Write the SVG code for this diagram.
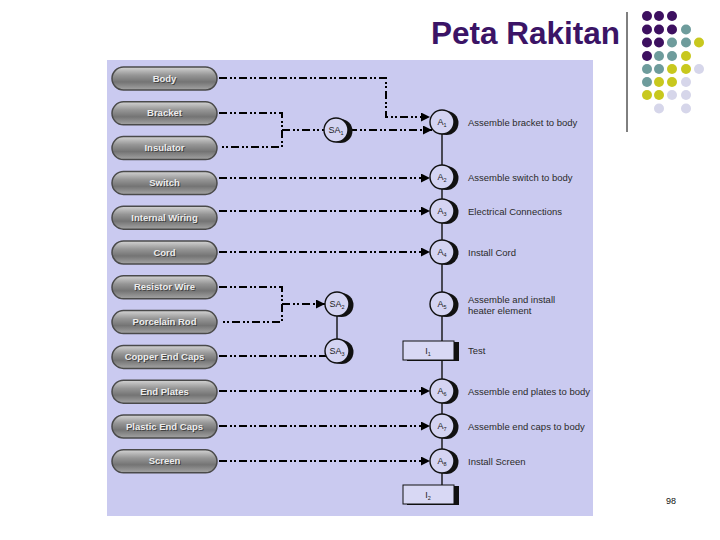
<svg xmlns="http://www.w3.org/2000/svg" width="720" height="540" viewBox="0 0 720 540">
<defs>
<linearGradient id="pillg" x1="0" y1="0" x2="0" y2="1">
<stop offset="0" stop-color="#d4d4d4"/>
<stop offset="0.35" stop-color="#969696"/>
<stop offset="0.65" stop-color="#747474"/>
<stop offset="1" stop-color="#a4a4a4"/>
</linearGradient>
<marker id="arr" markerUnits="userSpaceOnUse" markerWidth="10" markerHeight="10" refX="9" refY="4.5" orient="auto">
<path d="M0,0 L9,4.5 L0,9 z" fill="#000"/>
</marker>
<g id="circ">
<circle cx="4.5" cy="1" r="12" fill="#111"/>
<circle cx="0" cy="0" r="12" fill="#d4d4f2" stroke="#111" stroke-width="1.4"/>
</g>
</defs>
<style>
.pill{fill:url(#pillg);stroke:#4a4a4a;stroke-width:1.5}
.pt{font-family:"Liberation Sans",Arial,sans-serif;font-size:9.5px;font-weight:bold;fill:#ececec;text-anchor:middle}
.ps{font-family:"Liberation Sans",Arial,sans-serif;font-size:9.5px;font-weight:bold;fill:#444;text-anchor:middle}
.dl{fill:none;stroke:#000;stroke-width:2;stroke-dasharray:8 3 2 2 2 3}
.ct{font-family:"Liberation Sans",Arial,sans-serif;font-size:9px;fill:#222;text-anchor:middle}
.sub{font-size:5.5px}
.lb{font-family:"Liberation Sans",Arial,sans-serif;font-size:9.5px;fill:#2a2a2a}
</style>
<rect width="720" height="540" fill="#fff"/>
<text x="431" y="44" font-family="Liberation Sans,Arial,sans-serif" font-size="31.5" font-weight="bold" fill="#3b1466">Peta Rakitan</text>
<line x1="627" y1="12" x2="627" y2="132" stroke="#000" stroke-width="1"/>
<g id="dots">
<g fill="#3d1060">
<circle cx="647" cy="16" r="5"/><circle cx="659" cy="16" r="5"/><circle cx="672" cy="16" r="5"/>
<circle cx="647" cy="29.5" r="5"/><circle cx="659" cy="29.5" r="5"/><circle cx="672" cy="29.5" r="5"/>
<circle cx="647" cy="42.5" r="5"/><circle cx="659" cy="42.5" r="5"/>
<circle cx="647" cy="56" r="5"/>
</g>
<g fill="#6e9c9c">
<circle cx="686" cy="29.5" r="5"/>
<circle cx="672" cy="42.5" r="5"/><circle cx="686" cy="42.5" r="5"/>
<circle cx="659" cy="56" r="5"/><circle cx="672" cy="56" r="5"/>
<circle cx="647" cy="69" r="5"/><circle cx="659" cy="69" r="5"/>
<circle cx="647" cy="82" r="5"/>
</g>
<g fill="#c8c81e">
<circle cx="699" cy="42.5" r="5"/>
<circle cx="686" cy="56" r="5"/>
<circle cx="672" cy="69" r="5"/><circle cx="686" cy="69" r="5"/>
<circle cx="659" cy="82" r="5"/><circle cx="672" cy="82" r="5"/>
<circle cx="647" cy="95" r="5"/><circle cx="659" cy="95" r="5"/>
</g>
<g fill="#d6d6ea">
<circle cx="699" cy="69" r="5"/>
<circle cx="686" cy="82" r="5"/>
<circle cx="672" cy="95" r="5"/><circle cx="686" cy="95" r="5"/>
<circle cx="659" cy="108.5" r="5"/><circle cx="686" cy="108.5" r="5"/>
</g>
</g>
<rect x="107" y="60" width="486" height="456" fill="#cacaf0"/>
<g id="connectors">
<path class="dl" d="M219,78 H386 V117 H430" marker-end="url(#arr)"/>
<path class="dl" d="M219,113 H282 V147 H220"/>
<path class="dl" d="M282,130 H324"/>
<path class="dl" d="M349,130 H432" marker-end="url(#arr)"/>
<path class="dl" d="M219,178 H430" marker-end="url(#arr)"/>
<path class="dl" d="M219,211 H430" marker-end="url(#arr)"/>
<path class="dl" d="M219,252 H430" marker-end="url(#arr)"/>
<path class="dl" d="M219,287 H282 V322 H220"/>
<path class="dl" d="M282,304 H325" marker-end="url(#arr)"/>
<path class="dl" d="M219,356 H326"/>
<path class="dl" d="M219,391 H430" marker-end="url(#arr)"/>
<path class="dl" d="M219,426 H430" marker-end="url(#arr)"/>
<path class="dl" d="M219,461 H430" marker-end="url(#arr)"/>
<path d="M337,316 V339" stroke="#111" stroke-width="1.4"/>
<path d="M442,134 V485" stroke="#111" stroke-width="1.4"/>
</g>
<g id="n-body"><rect class="pill" x="112" y="67" width="105" height="23" rx="11.5"/><text class="ps" x="165.5" y="82.5">Body</text><text class="pt" x="164.5" y="81.5">Body</text></g>
<g id="n-bracket"><rect class="pill" x="112" y="101.8" width="105" height="23" rx="11.5"/><text class="ps" x="165.5" y="117.3">Bracket</text><text class="pt" x="164.5" y="116.3">Bracket</text></g>
<g id="n-insulator"><rect class="pill" x="112" y="136.6" width="105" height="23" rx="11.5"/><text class="ps" x="165.5" y="152.1">Insulator</text><text class="pt" x="164.5" y="151.1">Insulator</text></g>
<g id="n-switch"><rect class="pill" x="112" y="171.4" width="105" height="23" rx="11.5"/><text class="ps" x="165.5" y="186.9">Switch</text><text class="pt" x="164.5" y="185.9">Switch</text></g>
<g id="n-wiring"><rect class="pill" x="112" y="206.2" width="105" height="23" rx="11.5"/><text class="ps" x="165.5" y="221.7">Internal Wiring</text><text class="pt" x="164.5" y="220.7">Internal Wiring</text></g>
<g id="n-cord"><rect class="pill" x="112" y="241" width="105" height="23" rx="11.5"/><text class="ps" x="165.5" y="256.5">Cord</text><text class="pt" x="164.5" y="255.5">Cord</text></g>
<g id="n-resistor"><rect class="pill" x="112" y="275.8" width="105" height="23" rx="11.5"/><text class="ps" x="165.5" y="291.3">Resistor Wire</text><text class="pt" x="164.5" y="290.3">Resistor Wire</text></g>
<g id="n-porcelain"><rect class="pill" x="112" y="310.6" width="105" height="23" rx="11.5"/><text class="ps" x="165.5" y="326.1">Porcelain Rod</text><text class="pt" x="164.5" y="325.1">Porcelain Rod</text></g>
<g id="n-copper"><rect class="pill" x="112" y="345.4" width="105" height="23" rx="11.5"/><text class="ps" x="165.5" y="360.9">Copper End Caps</text><text class="pt" x="164.5" y="359.9">Copper End Caps</text></g>
<g id="n-endplates"><rect class="pill" x="112" y="380.2" width="105" height="23" rx="11.5"/><text class="ps" x="165.5" y="395.7">End Plates</text><text class="pt" x="164.5" y="394.7">End Plates</text></g>
<g id="n-plastic"><rect class="pill" x="112" y="415" width="105" height="23" rx="11.5"/><text class="ps" x="165.5" y="430.5">Plastic End Caps</text><text class="pt" x="164.5" y="429.5">Plastic End Caps</text></g>
<g id="n-screen"><rect class="pill" x="112" y="449.8" width="105" height="23" rx="11.5"/><text class="ps" x="165.5" y="465.3">Screen</text><text class="pt" x="164.5" y="464.3">Screen</text></g>
<g id="n-sa1"><use href="#circ" x="336" y="130"/><text class="ct" x="336" y="133">SA<tspan class="sub" dy="2">1</tspan></text></g>
<g id="n-sa2"><use href="#circ" x="337" y="304"/><text class="ct" x="337" y="307">SA<tspan class="sub" dy="2">2</tspan></text></g>
<g id="n-sa3"><use href="#circ" x="337" y="351"/><text class="ct" x="337" y="354">SA<tspan class="sub" dy="2">3</tspan></text></g>
<g id="n-a1"><use href="#circ" x="442" y="122"/><text class="ct" x="442" y="125">A<tspan class="sub" dy="2">1</tspan></text><text class="lb" x="468" y="125.5">Assemble bracket to body</text></g>
<g id="n-a2"><use href="#circ" x="442" y="177"/><text class="ct" x="442" y="180">A<tspan class="sub" dy="2">2</tspan></text><text class="lb" x="468" y="180.5">Assemble switch to body</text></g>
<g id="n-a3"><use href="#circ" x="442" y="211"/><text class="ct" x="442" y="214">A<tspan class="sub" dy="2">3</tspan></text><text class="lb" x="468" y="214.5">Electrical Connections</text></g>
<g id="n-a4"><use href="#circ" x="442" y="252"/><text class="ct" x="442" y="255">A<tspan class="sub" dy="2">4</tspan></text><text class="lb" x="468" y="255.5">Install Cord</text></g>
<g id="n-a5"><use href="#circ" x="442" y="304"/><text class="ct" x="442" y="307">A<tspan class="sub" dy="2">5</tspan></text><text class="lb" x="468" y="302.5">Assemble and install</text><text class="lb" x="468" y="313.5">heater element</text></g>
<g id="n-i1"><rect x="407" y="342" width="52" height="19" fill="#111"/><rect x="403" y="341" width="51" height="19" fill="#d8d8f4" stroke="#111" stroke-width="1"/><text class="ct" x="428" y="354">I<tspan class="sub" dy="2">1</tspan></text><text class="lb" x="468" y="354">Test</text></g>
<g id="n-a6"><use href="#circ" x="442" y="391"/><text class="ct" x="442" y="394">A<tspan class="sub" dy="2">6</tspan></text><text class="lb" x="468" y="394.5">Assemble end plates to body</text></g>
<g id="n-a7"><use href="#circ" x="442" y="426"/><text class="ct" x="442" y="429">A<tspan class="sub" dy="2">7</tspan></text><text class="lb" x="468" y="429.5">Assemble end caps to body</text></g>
<g id="n-a8"><use href="#circ" x="442" y="461"/><text class="ct" x="442" y="464">A<tspan class="sub" dy="2">8</tspan></text><text class="lb" x="468" y="464.5">Install Screen</text></g>
<g id="n-i2"><rect x="407" y="486" width="52" height="19" fill="#111"/><rect x="403" y="485" width="51" height="19" fill="#d8d8f4" stroke="#111" stroke-width="1"/><text class="ct" x="428" y="498">I<tspan class="sub" dy="2">2</tspan></text></g>
<text x="671" y="504" font-family="Liberation Sans,Arial,sans-serif" font-size="9" fill="#111" text-anchor="middle">98</text>
</svg>
